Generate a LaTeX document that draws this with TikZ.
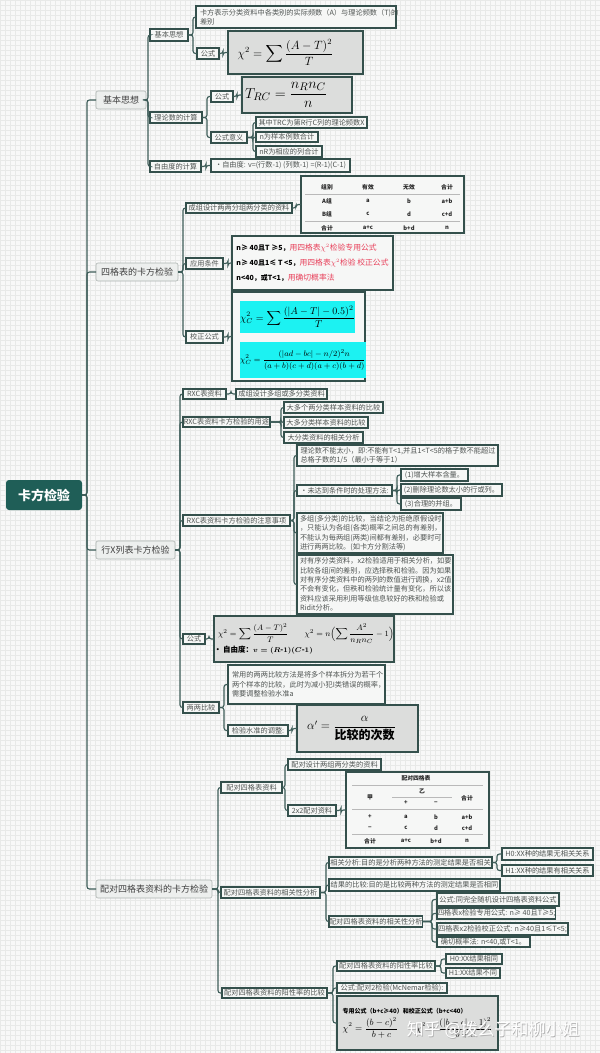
\documentclass[tikz,border=0pt]{standalone}
\usepackage{amsmath}
\usepackage[no-math]{fontspec}
\setmainfont{Noto Sans CJK SC}
\usetikzlibrary{calc}
\definecolor{teal1}{HTML}{1F5E57}
\definecolor{lnc}{HTML}{3D5C58}
\definecolor{bdr}{HTML}{34504C}
\definecolor{l1fill}{HTML}{EDEFEE}
\definecolor{l1bdr}{HTML}{AEB4B2}
\definecolor{boxfill}{HTML}{F6F7F6}
\definecolor{fgray}{HTML}{DCDDDC}
\definecolor{txt}{HTML}{505553}
\definecolor{redt}{HTML}{E8405A}
\definecolor{cyanb}{HTML}{1CF2F2}
\definecolor{bgc}{HTML}{F8F8F8}
\definecolor{gridc}{HTML}{E8E9E8}
\tikzset{
 every node/.style={inner sep=0pt, outer sep=0pt},
 rootbox/.style={fill=teal1, rounded corners=3pt, text=white, font=\fontsize{13}{15}\selectfont\bfseries},
 l1box/.style={fill=l1fill, draw=l1bdr, line width=0.6pt, rounded corners=2pt, text=black!75, font=\fontsize{9}{11}\selectfont},
 l2box/.style={fill=boxfill, draw=bdr, line width=1.1pt, text=txt, font=\fontsize{7.2}{9.4}\selectfont},
 fbox/.style={fill=fgray, draw=bdr, line width=1.4pt, text=black},
 tbox/.style={fill=boxfill, draw=bdr, line width=1.4pt},
 cybox/.style={fill=cyanb, text=black},
 conn/.style={draw=lnc, line width=1.1pt, rounded corners=2.5pt},
 tcell/.style={font=\fontsize{5.8}{7}\selectfont\bfseries, text=black!85},
 tline/.style={draw=gray!55, line width=0.6pt},
}
% #1 opts, #2 style, #3 name, #4 x1, #5 y1, #6 x2, #7 y2, #8 text
\newcommand\bx[8][]{\node[#2, anchor=north west, minimum width={(#6-#4)*1pt}, minimum height={(#7-#5)*1pt}, #1] (#3) at (#4,#5) {#8};}
\newcommand\lk[3]{\path[conn] (#1.east) -- (#1.east -| #2) |- (#3.west);}
\begin{document}
\begin{tikzpicture}[x=1pt,y=-1pt]
\useasboundingbox (0,0) rectangle (600,1053);
\fill[bgc] (0,0) rectangle (600,1053);
\foreach \i in {0,5,...,600} \draw[gridc,line width=1pt] (\i,0) -- (\i,1053);
\foreach \j in {0,5,...,1050} \draw[gridc,line width=1pt] (0,\j) -- (600,\j);

% bars
\coordinate (x87) at (87,0);
\coordinate (x148) at (148,0);
\coordinate (x193) at (193,0);
\coordinate (x223) at (223,0);
\coordinate (x207) at (207,0);
\coordinate (x237) at (237,0);
\coordinate (x254) at (253,0);
\coordinate (x206) at (206,0);
\coordinate (x183) at (183,0);
\coordinate (x296) at (296,0);
\coordinate (x228) at (228,0);
\coordinate (x180) at (180,0);
\coordinate (x231) at (231,0);
\coordinate (x281) at (281,0);
\coordinate (x295) at (294,0);
\coordinate (x397) at (397,0);
\coordinate (x209) at (209,0);
\coordinate (x224) at (224,0);
\coordinate (x292) at (292,0);
\coordinate (x218) at (218,0);
\coordinate (x285) at (285,0);
\coordinate (x341) at (341,0);
\coordinate (x326) at (326,0);
\coordinate (x497) at (497,0);
\coordinate (x432) at (432,0);
\coordinate (x333) at (333,0);
\coordinate (x441) at (441,0);

% root and level 1
\bx{rootbox}{root}{6}{480}{82}{510}{卡方检验}
\bx{l1box}{a1}{96}{91}{146}{109}{基本思想}
\bx{l1box}{a2}{96}{263}{178}{281}{四格表的卡方检验}
\bx{l1box}{a3}{96}{541}{175}{559}{行X列表卡方检验}
\bx{l1box}{a4}{96}{880}{212}{898}{配对四格表资料的卡方检验}

% ---------- 基本思想
\bx{l2box}{b11}{150}{29}{188}{41}{基本思想}
\bx{l2box}{b12}{150}{112}{202}{123}{理论数的计算}
\bx{l2box}{b13}{150}{161}{201}{172}{自由度的计算}
\bx[align=left, text width=192pt]{l2box}{c111}{196}{6}{396}{28}{卡方表示分类资料中各类别的实际频数（A）与理论频数（T)的\\差别}
\bx{l2box}{c112}{197}{48}{219}{59}{公式}
\bx{fbox}{f1}{228}{31}{363}{74}{\hspace*{-20pt}\fontsize{12}{14}\selectfont$\displaystyle \chi^2=\sum\frac{(A-T)^2}{T}$}
\bx{l2box}{c121}{211}{91}{233}{102}{公式}
\bx{fbox}{f2}{242}{77}{352}{113}{\hspace*{-22pt}\fontsize{15}{17}\selectfont$\displaystyle T_{RC}=\frac{n_Rn_C}{n}$}
\bx{l2box}{c122}{211}{132}{247}{143}{公式意义}
\bx{l2box}{d1}{256}{117}{367}{128}{其中TRC为第R行C列的理论频数X}
\bx{l2box}{d2}{256}{132}{318}{142}{n为样本例数合计}
\bx{l2box}{d3}{256}{146}{322}{157}{nR为相应的列合计}
\bx{l2box}{c131}{211}{159}{350}{172}{•自由度: v=(行数-1) (列数-1) =(R-1)(C-1)}

\lk{root}{x87}{a1}\lk{root}{x87}{a2}\lk{root}{x87}{a3}\lk{root}{x87}{a4}
\lk{a1}{x148}{b11}\lk{a1}{x148}{b12}\lk{a1}{x148}{b13}
\lk{b11}{x193}{c111}\lk{b11}{x193}{c112}
\lk{c112}{x223}{f1}
\lk{b12}{x207}{c121}\lk{b12}{x207}{c122}
\lk{c121}{x237}{f2}
\lk{c122}{x254}{d1}\lk{c122}{x254}{d2}\lk{c122}{x254}{d3}
\lk{b13}{x206}{c131}

% ---------- 四格表
\bx{l2box}{b21}{186}{203}{292}{213}{成组设计两两分组两分类的资料}
\bx{l2box}{b22}{186}{258}{223}{269}{应用条件}
\bx{l2box}{b23}{186}{331}{223}{343}{校正公式}
\bx{tbox}{t1}{301}{176}{464}{233}{}
\node[tcell] (t1a) at (327,187) {组别};
\node[tcell] (t1b) at (368,187) {有效};
\node[tcell] (t1c) at (409,187) {无效};
\node[tcell] (t1d) at (447,187) {合计};
\node[tcell] (t1e) at (327,201) {A组};
\node[tcell] (t1f) at (368,201) {a};
\node[tcell] (t1g) at (409,201) {b};
\node[tcell] (t1h) at (447,201) {a+b};
\node[tcell] (t1i) at (327,214) {B组};
\node[tcell] (t1j) at (368,214) {c};
\node[tcell] (t1k) at (409,214) {d};
\node[tcell] (t1l) at (447,214) {c+d};
\node[tcell] (t1m) at (327,228) {合计};
\node[tcell] (t1n) at (368,228) {a+c};
\node[tcell] (t1o) at (409,228) {b+d};
\node[tcell] (t1p) at (447,228) {n};
\draw[tline] (305,194) -- (460,194);
\draw[tline] (305,221) -- (460,221);
\bx[align=left, font=\fontsize{7}{15}\selectfont]{l2box}{cond}{232}{236}{393}{290}{%
{\bfseries\color{black}n≥ 40且T ≥5，}{\color{redt}\fontsize{7.8}{15}\selectfont 用四格表$\chi^2$检验专用公式}\\
{\bfseries\color{black}n≥ 40且1≤ T <5，}{\color{redt}\fontsize{7.8}{15}\selectfont 用四格表$\chi^2$检验 校正公式}\\
{\bfseries\color{black}n<40，或T<1，}{\color{redt}\fontsize{7.8}{15}\selectfont 用确切概率法}}
\bx{tbox}{jz}{232}{292}{365}{381}{}
\bx{cybox}{cy1}{240}{301}{355}{333}{\fontsize{10}{12}\selectfont$\displaystyle \chi_C^2=\sum\frac{(|A-T|-0.5)^2}{T}$}
\bx{cybox}{cy2}{240}{342}{354}{378}{\fontsize{8.5}{10}\selectfont$\displaystyle \chi_C^2=\frac{(|ad-bc|-n/2)^2n}{(a+b)(c+d)(a+c)(b+d)}$}

\lk{a2}{x183}{b21}\lk{a2}{x183}{b22}\lk{a2}{x183}{b23}
\lk{b21}{x296}{t1}
\lk{b22}{x228}{cond}
\lk{b23}{x228}{jz}

% ---------- 行X列
\bx{l2box}{b31}{183}{389}{226}{399}{RXC表资料}
\bx{l2box}{c311}{236}{389}{327}{399}{成组设计多组或多分类资料}
\bx{l2box}{b32}{183}{417}{270}{427}{RXC表资料卡方检验的用途}
\bx{l2box}{c321}{284}{402}{383}{413}{大多个两分类样本资料的比较}
\bx{l2box}{c322}{284}{417}{368}{428}{大多分类样本资料的比较}
\bx{l2box}{c323}{284}{432}{363}{443}{大分类资料的相关分析}
\bx{l2box}{b33}{183}{515}{290}{526}{RXC表资料卡方检验的注意事项}
\bx[align=left, text width=194pt]{l2box}{c331}{297}{445}{498}{466}{理论数不能太小，即:不能有T<1,并且1<T<5的格子数不能超过\\总格子数的1/5（最小于等于1）}
\bx{l2box}{c332}{297}{485}{392}{496}{•未达到条件时的处理方法:}
\bx{l2box}{e1}{401}{469}{468}{481}{(1)增大样本含量。}
\bx{l2box}{e2}{401}{484}{502}{496}{(2)删除理论数太小的行或列。}
\bx{l2box}{e3}{401}{498}{461}{510}{(3)合理的并组。}
\bx[align=left, text width=140pt]{l2box}{c333}{297}{513}{443}{553}{多组(多分类)的比较，当结论为拒绝原假设时\\，只能认为各组(各类)概率之间总的有差别，\\不能认为每两组(两类)间都有差别，必要时可\\进行两两比较。(如卡方分割法等)}
\bx[align=left, text width=150pt]{l2box}{c334}{297}{555}{453}{614}{对有序分类资料，x2检验适用于相关分析，如要\\比较各组间的差别，应选择秩和检验。因为如果\\对有序分类资料中的两列的数值进行调换，x2值\\不会有变化，但秩和检验统计量有变化，所以该\\资料应该采用利用等级信息较好的秩和检验或\\Ridit分析。}
\bx{l2box}{b34}{183}{634}{205}{644}{公式}
\bx[align=left]{fbox}{f3}{214}{616}{376}{662}{%
{\fontsize{8}{10}\selectfont\hspace*{4pt}$\displaystyle\chi^2=\sum\frac{(A-T)^2}{T}\qquad \chi^2=n\Bigl(\sum\frac{A^2}{n_Rn_C}-1\Bigr)$}\\[1pt]
{\fontsize{7.5}{9}\selectfont\bfseries • 自由度：{\boldmath$v=(R\text{-}1)(C\text{-}1)$}}}
\bx{l2box}{b35}{183}{702}{219}{713}{两两比较}
\bx[align=left, text width=149pt]{l2box}{c351}{228}{665}{385}{704}{常用的两两比较方法是将多个样本拆分为若干个\\两个样本的比较，此时为减小犯I类错误的概率，\\需要调整检验水准a}
\bx{l2box}{c352}{228}{725}{288}{736}{检验水准的调整:}
\bx{fbox}{f4}{297}{705}{418}{752}{\hspace*{-12pt}\fontsize{12}{14}\selectfont$\displaystyle \alpha'=\frac{\alpha}{\text{\bfseries 比较的次数}}$}

\lk{a3}{x180}{b31}\lk{a3}{x180}{b32}\lk{a3}{x180}{b33}\lk{a3}{x180}{b34}\lk{a3}{x180}{b35}
\lk{b31}{x231}{c311}
\lk{b32}{x281}{c321}\lk{b32}{x281}{c322}\lk{b32}{x281}{c323}
\lk{b33}{x295}{c331}\lk{b33}{x295}{c332}\lk{b33}{x295}{c333}\lk{b33}{x295}{c334}
\lk{c332}{x397}{e1}\lk{c332}{x397}{e2}\lk{c332}{x397}{e3}
\lk{b34}{x209}{f3}
\lk{b35}{x224}{c351}\lk{b35}{x224}{c352}
\lk{c352}{x292}{f4}

% ---------- 配对四格表
\bx{l2box}{b41}{221}{782}{282}{793}{配对四格表资料}
\bx{l2box}{c411}{288}{759}{381}{770}{配对设计两组两分类的资料}
\bx{l2box}{c412}{288}{805}{336}{816}{2x2配对资料}
\bx{tbox}{t2}{346}{772}{489}{848}{}
\node[tcell] (t2a) at (416,778) {配对四格表};
\draw[tline] (352,785) -- (483,785);
\node[tcell] (t2b) at (370,797) {甲};
\node[tcell] (t2c) at (422,791) {乙};
\draw[tline] (392,797) -- (452,797);
\node[tcell] (t2d) at (406,803) {+};
\node[tcell] (t2e) at (436,803) {−};
\node[tcell] (t2f) at (467,798) {合计};
\draw[tline] (352,809) -- (483,809);
\node[tcell] (t2g) at (370,817) {+};
\node[tcell] (t2h) at (406,817) {a};
\node[tcell] (t2i) at (436,817) {b};
\node[tcell] (t2j) at (467,817) {a+b};
\node[tcell] (t2k) at (370,828) {−};
\node[tcell] (t2l) at (406,828) {c};
\node[tcell] (t2m) at (436,828) {d};
\node[tcell] (t2n) at (467,828) {c+d};
\draw[tline] (352,834) -- (483,834);
\node[tcell] (t2o) at (370,841) {合计};
\node[tcell] (t2p) at (406,841) {a+c};
\node[tcell] (t2q) at (436,841) {b+d};
\node[tcell] (t2r) at (467,841) {n};

\bx{l2box}{b42}{221}{887}{320}{898}{配对四格表资料的相关性分析}
\bx{l2box}{c421}{329}{857}{492}{868}{相关分析:目的是分析两种方法的测定结果是否相关}
\bx{l2box}{g1}{502}{848}{593}{860}{H0:XX种的结果无相关关系}
\bx{l2box}{g2}{502}{865}{593}{876}{H1:XX种的结果有相关关系}
\bx{l2box}{c422}{329}{879}{500}{891}{结果的比较:目的是比较两种方法的测定结果是否相同}
\bx{l2box}{c423}{329}{916}{420}{927}{配对四格表资料的相关性分析}
\bx{l2box}{h1}{437}{893}{559}{906}{公式:同完全随机设计四格表资料公式}
\bx{l2box}{h2}{437}{908}{554}{919}{四格表x检验专用公式: n≥ 40且T≥5;}
\bx{l2box}{h3}{437}{923}{568}{935}{四格表x2检验校正公式: n≥40且1≤T<5;}
\bx{l2box}{h4}{437}{937}{530}{947}{确切概率法: n<40,或T<1。}
\bx{l2box}{b43}{222}{988}{327}{998}{配对四格表资料的阳性率的比较}
\bx{l2box}{c431}{337}{961}{435}{971}{配对四格表资料的阳性率比较}
\bx{l2box}{k1}{446}{954}{502}{964}{H0:XX结果相同}
\bx{l2box}{k2}{446}{968}{500}{978}{H1:XX结果不同}
\bx{l2box}{c432}{337}{983}{447}{993}{公式:配对2检验(McNemar检验):}
\bx[align=left]{fbox}{c433}{337}{996}{498}{1050}{%
{\fontsize{6}{8}\selectfont\bfseries 专用公式（b+c≥40）和校正公式（b+c<40）}\\[3pt]
{\fontsize{9}{11}\selectfont$\displaystyle\chi^2=\frac{(b-c)^2}{b+c}\qquad\chi^2=\frac{(|b-c|-1)^2}{b+c}$}}

\lk{a4}{x218}{b41}\lk{a4}{x218}{b42}\lk{a4}{x218}{b43}
\lk{b41}{x285}{c411}\lk{b41}{x285}{c412}
\lk{c412}{x341}{t2}
\lk{b42}{x326}{c421}\lk{b42}{x326}{c422}\lk{b42}{x326}{c423}
\lk{c421}{x497}{g1}\lk{c421}{x497}{g2}
\lk{c423}{x432}{h1}\lk{c423}{x432}{h2}\lk{c423}{x432}{h3}\lk{c423}{x432}{h4}
\lk{b43}{x333}{c431}\lk{b43}{x333}{c432}\lk{b43}{x333}{c433}
\lk{c431}{x441}{k1}\lk{c431}{x441}{k2}

% watermark
\node[font=\fontsize{17}{19}\selectfont, text=gray!60] (wms) at (494,1031) {知乎 @拨么子和柳小姐};
\node[font=\fontsize{17}{19}\selectfont, text=white] (wm) at (493.3,1030.3) {知乎 @拨么子和柳小姐};
\end{tikzpicture}
\end{document}
